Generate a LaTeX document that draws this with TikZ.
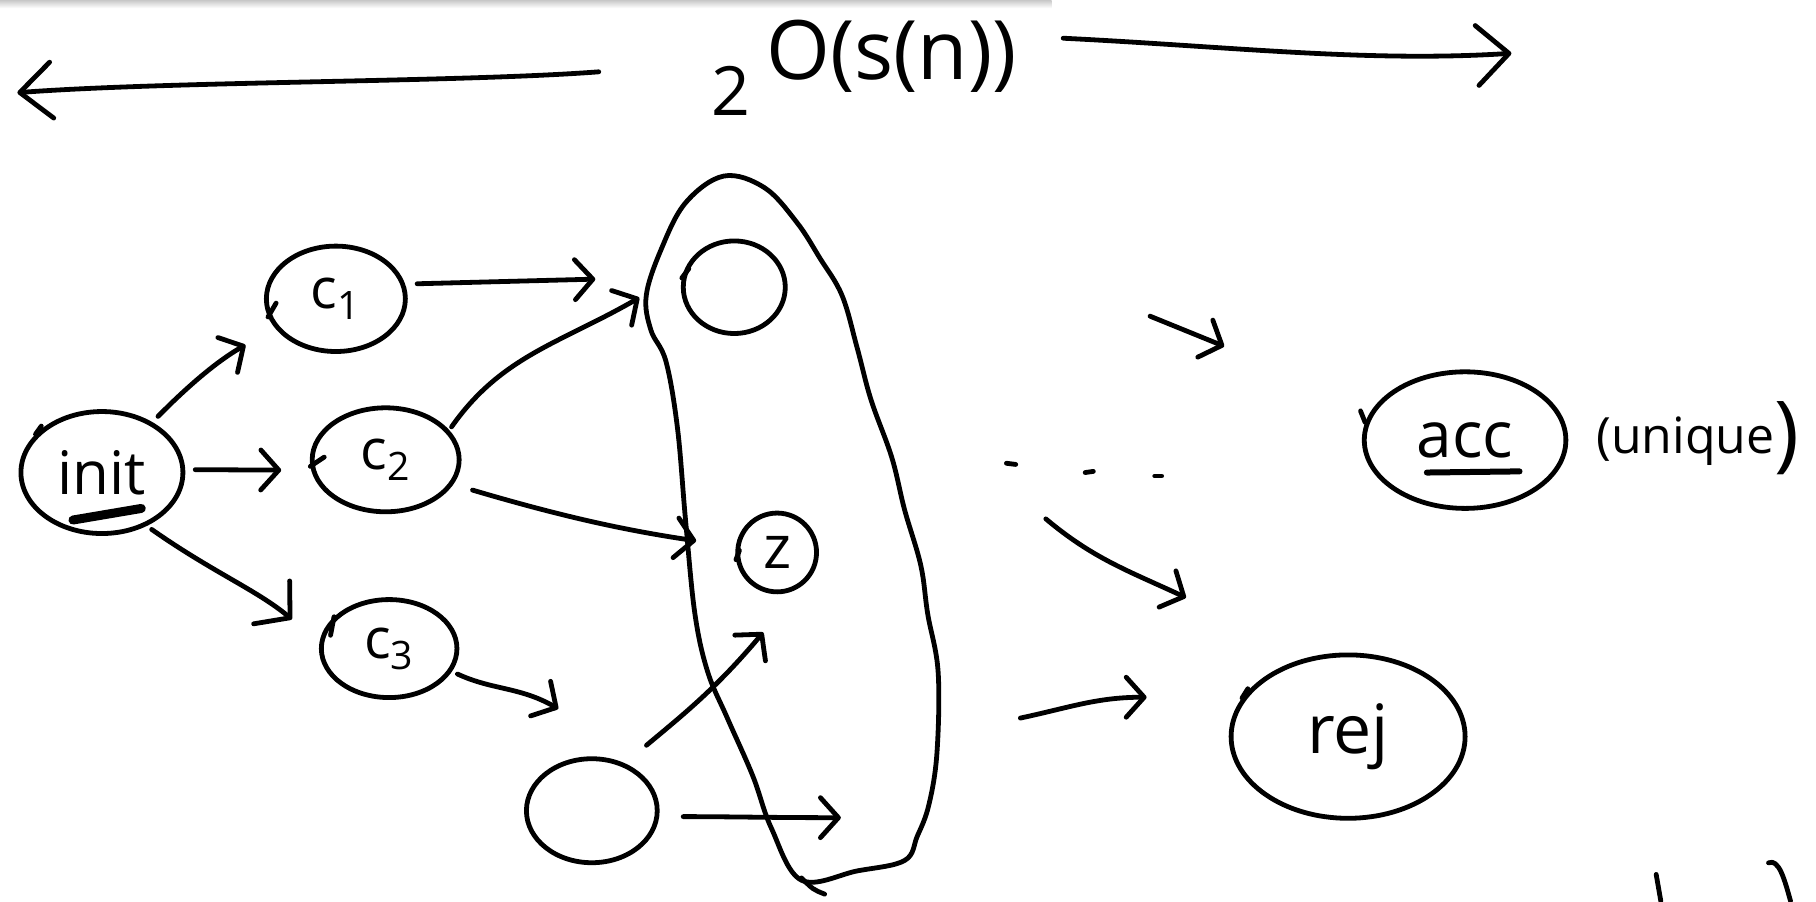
\documentclass[tikz,border=0pt]{standalone}
\usepackage{fontspec}
\setmainfont{Open Sans}
\usetikzlibrary{arrows.meta,shapes.geometric}
\begin{document}
\begin{tikzpicture}[x=0.5791pt,y=-0.5791pt,
  pen/.style={line width=2.4pt,line cap=round,line join=round},
  state/.style={pen,draw,ellipse,inner sep=0pt},
  hand/.style={font=\fontsize{#1}{#1}\selectfont},
  arr/.style={pen,-{Straight Barb[length=9pt,width=20pt,line join=round,line cap=round]}},
  bigarr/.style={pen,-{Straight Barb[length=12pt,width=28pt,line join=round,line cap=round]}},
  scribble/.style={line width=4.5pt,line cap=round}]
\useasboundingbox (0,0) rectangle (1568,778);

% faint toolbar shadow along the top edge
\shade[top color=black!22,bottom color=white] (0,0) rectangle (908,7);

% size bound with its span arrows
\node[anchor=base west,inner sep=0pt] (bound) at (614,100)
  {\fontsize{34}{34}\selectfont 2\hspace{8pt}\raisebox{18pt}{\fontsize{41}{41}\selectfont O(s(n))}};
\coordinate (spanLs) at (517,62);
\coordinate (spanLe) at (15,80);
\coordinate (spanRs) at (918,33);
\coordinate (spanRe) at (1305,46);
\draw[pen,-{Straight Barb[length=16pt,width=28pt,line join=round,line cap=round]}] (spanLs) .. controls (400,71) and (150,70) .. (spanLe);
\draw[pen,-{Straight Barb[length=16pt,width=30pt,line join=round,line cap=round]}] (spanRs) .. controls (1060,40) and (1180,54) .. (spanRe);

% configurations
\node[state,hand=30,minimum width=81pt,minimum height=61pt] (init) at (88,408) {init};
\node[state,hand=28,minimum width=69.5pt,minimum height=52.7pt] (c1) at (290,258) {c\textsubscript{1}};
\node[state,hand=28,minimum width=73.5pt,minimum height=52pt] (c2) at (333,397) {c\textsubscript{2}};
\node[state,hand=28,minimum width=67.8pt,minimum height=49pt] (c3) at (336,560) {c\textsubscript{3}};
\node[state,minimum width=51pt,minimum height=46.3pt] (top) at (634,248) {};
\node[state,hand=30,minimum width=39.4pt,minimum height=39.4pt] (z) at (671,477) {z};
\node[state,minimum width=65.4pt,minimum height=52pt] (low) at (511,700) {};
\node[state,hand=32,minimum width=100.8pt,minimum height=68.3pt] (acc) at (1265,380) {acc};
\node[state,hand=34,minimum width=117pt,minimum height=81.7pt] (rej) at (1164,636) {rej};
\node[hand=25,inner sep=0pt] (uniq) at (1466,378) {(unique\raisebox{-4pt}{\fontsize{42}{42}\selectfont)}};

% pen starts on the outlines
\draw[pen] (init.150) -- ++(5,-7);
\draw[pen] (c1.195) -- ++(7,-12);
\draw[pen] (c2.185) -- ++(12,-8);
\draw[pen] (c3.150) -- ++(-3,16);
\draw[pen] (top.170) -- ++(6,-8);
\draw[pen] (z.190) -- ++(3,-8);
\draw[pen] (acc.170) -- ++(-4,-10);
\draw[pen] (rej.160) -- ++(5,-8);

% underlines
\draw[scribble] (63,449) -- (122,439);
\draw[line width=3pt,line cap=round] (1232,408) -- (1312,407);

% set of reachable configurations
\draw[pen] plot[smooth cycle,tension=0.6] coordinates {
  (625,152) (592,175) (571,215) (558,255) (562,285) (575,312) (585,370)
  (592,450) (600,530) (611,580) (628,620) (650,670) (666,715) (692,760)
  (740,752) (781,743) (792,722) (802,695) (809,650) (810,580) (801,530)
  (795,488) (781,440) (770,395) (752,345) (740,300) (727,255) (708,223)
  (688,192) (660,162)};
\draw[pen] (692,758) .. controls (702,768) .. (712,772);

% transitions
\coordinate (tipA) at (514,241);
\coordinate (tipB) at (552,257);
\coordinate (tipD) at (482,612);
\coordinate (tipE) at (659,546);
\coordinate (tipF) at (726,706);
\draw[arr,shorten <=4pt,shorten >=17pt] (init.45) to[bend left=8] (c1);
\draw[arr,shorten <=5pt,shorten >=15pt] (init.2) -- (c2.188);
\draw[bigarr,shorten <=3pt,shorten >=18pt] (init.-50) to[out=-35,in=140] (c3.175);
\draw[arr,shorten <=6pt] (c1.12) -- (tipA);
\draw[arr,shorten <=2pt] (c2.25) to[out=55,in=-150] (tipB);
\draw[arr,shorten <=10pt,shorten >=20pt] (c2.-20) to[bend right=4] (z);
\draw[arr,shorten <=3pt] (c3.-20) to[out=-25,in=150] (tipD);
\draw[arr,shorten <=14pt] (low.55) to[out=40,in=-130] (tipE);
\draw[arr,shorten <=12pt] (low.-5) to[out=0,in=180] (tipF);

% continuing computation
\coordinate (f1s) at (993,273);
\coordinate (f1e) at (1057,299);
\coordinate (f2s) at (903,448);
\coordinate (f2e) at (1024,516);
\coordinate (f3s) at (881,620);
\coordinate (f3e) at (990,602);
\draw[arr] (f1s) -- (f1e);
\draw[arr] (f2s) to[out=-40,in=155] (f2e);
\draw[arr] (f3s) to[out=12,in=180] (f3e);
\draw[pen] (869,400) -- (877,401);
\draw[pen] (937,408) -- (944,407);
\draw[pen] (997,411) -- (1003,411);

% strokes at the lower edge
\draw[pen] (1430,755) -- (1434,778);
\draw[pen] (1527,745) .. controls (1536,741) and (1541,760) .. (1546,778);
\end{tikzpicture}
\end{document}
